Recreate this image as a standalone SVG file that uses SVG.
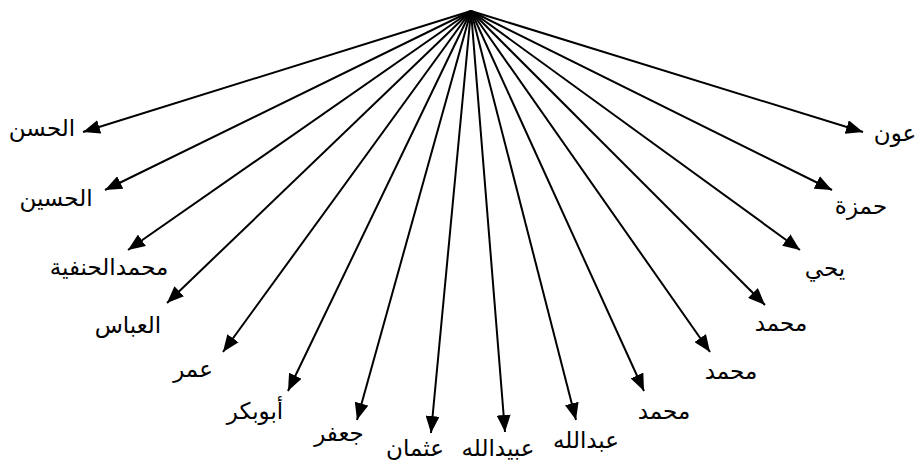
<svg xmlns="http://www.w3.org/2000/svg" width="919" height="469" viewBox="0 0 919 469">
<style>
.lbl{font-family:"DejaVu Sans","Noto Sans",sans-serif;font-size:23px;fill:#000;text-anchor:middle;direction:rtl}
.c line{stroke:#000;stroke-width:2;marker-end:url(#ah)}
</style>
<defs>
<marker id="ah" markerUnits="userSpaceOnUse" markerWidth="18" markerHeight="14" refX="17" refY="7" orient="auto">
<path d="M0,0 L17,7 L0,14 z" fill="#000"/>
</marker>
</defs>
<rect width="919" height="469" fill="#fff"/>
<g id="root"><text class="lbl" x="488" y="-7">علي بن أبي طالب</text></g>
<g id="connectors" class="c">
<line x1="471" y1="11" x2="83" y2="132"/>
<line x1="471" y1="11" x2="105" y2="190"/>
<line x1="471" y1="11" x2="128" y2="250"/>
<line x1="471" y1="11" x2="167" y2="303"/>
<line x1="471" y1="11" x2="223" y2="352"/>
<line x1="471" y1="11" x2="288" y2="391"/>
<line x1="471" y1="11" x2="357" y2="420"/>
<line x1="471" y1="11" x2="431" y2="433"/>
<line x1="471" y1="11" x2="505" y2="432"/>
<line x1="471" y1="11" x2="576" y2="420"/>
<line x1="471" y1="11" x2="644" y2="391"/>
<line x1="471" y1="11" x2="710" y2="352"/>
<line x1="471" y1="11" x2="765" y2="305"/>
<line x1="471" y1="11" x2="800" y2="250"/>
<line x1="471" y1="11" x2="832" y2="190"/>
<line x1="471" y1="11" x2="863" y2="132"/>
</g>
<g id="n1"><text class="lbl" x="42" y="136">الحسن</text></g>
<g id="n2"><text class="lbl" x="56" y="206">الحسين</text></g>
<g id="n3"><text class="lbl" x="109" y="275">محمدالحنفية</text></g>
<g id="n4"><text class="lbl" x="128" y="333">العباس</text></g>
<g id="n5"><text class="lbl" x="193" y="377">عمر</text></g>
<g id="n6"><text class="lbl" x="255" y="419">أبوبكر</text></g>
<g id="n7"><text class="lbl" x="339" y="441">جعفر</text></g>
<g id="n8"><text class="lbl" x="415" y="456">عثمان</text></g>
<g id="n9"><text class="lbl" x="498" y="456">عبيدالله</text></g>
<g id="n10"><text class="lbl" x="586" y="448">عبدالله</text></g>
<g id="n11"><text class="lbl" x="664" y="419">محمد</text></g>
<g id="n12"><text class="lbl" x="731" y="379">محمد</text></g>
<g id="n13"><text class="lbl" x="781" y="331">محمد</text></g>
<g id="n14"><text class="lbl" x="825" y="276">يحي</text></g>
<g id="n15"><text class="lbl" x="861" y="214">حمزة</text></g>
<g id="n16"><text class="lbl" x="895" y="141">عون</text></g>
</svg>
